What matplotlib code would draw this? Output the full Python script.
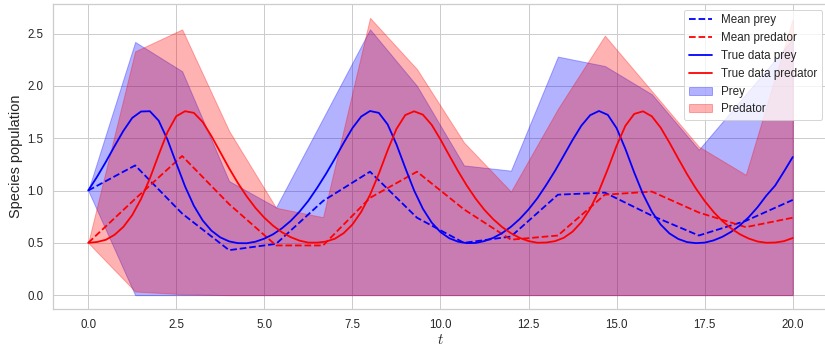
import matplotlib
matplotlib.use("Agg")
import matplotlib.pyplot as plt
import numpy as np
import seaborn as sns

# sample times of the posterior summaries (16 points over 0..20)
t_obs = np.linspace(0, 20, 16)

mean_prey = [1.00, 1.24, 0.78, 0.43, 0.49, 0.90, 1.18, 0.74, 0.50, 0.56, 0.96, 0.98, 0.76, 0.57, 0.71, 0.91]
mean_pred = [0.50, 0.92, 1.33, 0.87, 0.475, 0.475, 0.93, 1.18, 0.82, 0.53, 0.57, 0.96, 0.99, 0.79, 0.65, 0.74]

prey_upper = [1.00, 2.42, 2.14, 1.09, 0.84, 1.69, 2.54, 2.00, 1.24, 1.19, 2.28, 2.19, 1.92, 1.39, 1.92, 2.45]
prey_lower = [1.00, 0.00, 0.00, 0.00, 0.00, 0.00, 0.00, 0.00, 0.00, 0.00, 0.00, 0.00, 0.00, 0.00, 0.00, 0.00]
pred_upper = [0.50, 2.33, 2.54, 1.57, 0.835, 0.745, 2.65, 2.16, 1.46, 0.99, 1.78, 2.48, 1.95, 1.42, 1.15, 2.64]
pred_lower = [0.50, 0.035, 0.01, 0.00, 0.00, 0.00, 0.00, 0.00, 0.00, 0.00, 0.00, 0.00, 0.00, 0.00, 0.00, 0.00]

# true trajectories, read every 0.25 time units
t_true = np.linspace(0, 20, 81)
true_prey = [
    1.000, 1.130, 1.273, 1.425, 1.571, 1.694, 1.755, 1.758, 1.668, 1.487, 1.261, 1.039, 0.854,
    0.714, 0.616, 0.552, 0.514, 0.497, 0.496, 0.511, 0.540, 0.582, 0.639, 0.710, 0.798, 0.902,
    1.026, 1.159, 1.303, 1.454, 1.596, 1.707, 1.760, 1.742, 1.632, 1.442, 1.217, 1.002, 0.826,
    0.694, 0.603, 0.544, 0.511, 0.497, 0.499, 0.517, 0.548, 0.593, 0.653, 0.728, 0.819, 0.926,
    1.052, 1.187, 1.334, 1.483, 1.620, 1.720, 1.760, 1.723, 1.596, 1.397, 1.172, 0.965, 0.798,
    0.675, 0.590, 0.537, 0.507, 0.497, 0.502, 0.523, 0.557, 0.605, 0.667, 0.745, 0.840, 0.951,
    1.047, 1.181, 1.320,
]
true_pred = [
    0.500, 0.508, 0.529, 0.577, 0.653, 0.765, 0.919, 1.115, 1.341, 1.558, 1.710, 1.758, 1.742,
    1.655, 1.519, 1.366, 1.213, 1.071, 0.944, 0.833, 0.740, 0.663, 0.601, 0.554, 0.521, 0.502,
    0.502, 0.512, 0.539, 0.592, 0.675, 0.796, 0.958, 1.160, 1.384, 1.588, 1.721, 1.757, 1.725,
    1.628, 1.488, 1.335, 1.185, 1.046, 0.922, 0.814, 0.725, 0.651, 0.592, 0.547, 0.517, 0.501,
    0.503, 0.516, 0.548, 0.607, 0.698, 0.827, 0.997, 1.205, 1.428, 1.619, 1.732, 1.757, 1.709,
    1.601, 1.458, 1.305, 1.156, 1.020, 0.900, 0.796, 0.709, 0.638, 0.582, 0.541, 0.513, 0.501,
    0.503, 0.516, 0.546,
]

sns.set_theme(style="whitegrid")
plt.rcParams['font.family'] = ['Liberation Sans', 'DejaVu Sans']
plt.rcParams['mathtext.fontset'] = 'cm'

fig = plt.figure(figsize=(825 / 72, 345 / 72), dpi=72)
ax = fig.add_axes([0.0642, 0.1043, 0.9394, 0.8841])

lw = 1.8
ax.plot(t_obs, mean_prey, '--', color='blue', lw=lw, label='Mean prey')
ax.plot(t_obs, mean_pred, '--', color='red', lw=lw, label='Mean predator')
ax.plot(t_true, true_prey, color='blue', lw=lw, label='True data prey')
ax.plot(t_true, true_pred, color='red', lw=lw, label='True data predator')
ax.fill_between(t_obs, prey_lower, prey_upper, color='blue', alpha=0.3, label='Prey')
ax.fill_between(t_obs, pred_lower, pred_upper, color='red', alpha=0.3, label='Predator')

ax.tick_params(labelsize=11.5)
ax.set_xlabel('$t$', fontsize=15, labelpad=2)
ax.set_ylabel('Species population', fontsize=14.5)
ax.legend(loc='upper right', fontsize=11.6, borderaxespad=0.5)

fig.savefig('out.png', dpi=72)
